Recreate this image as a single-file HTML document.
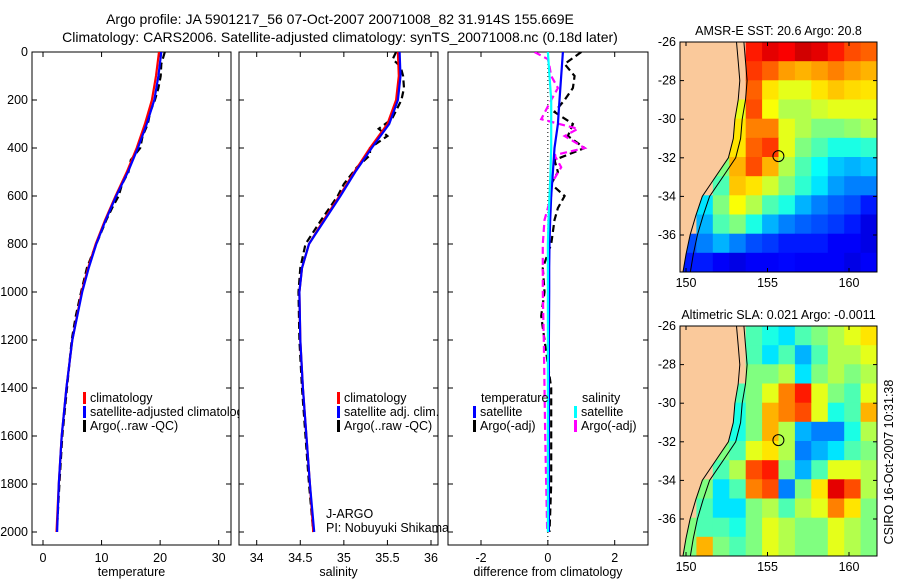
<!DOCTYPE html>
<html><head><meta charset="utf-8"><style>
html,body{margin:0;padding:0;background:#fff;}
svg{display:block;font-family:"Liberation Sans",sans-serif;}
</style></head><body>
<svg id="fig" width="900" height="580" viewBox="0 0 900 580">
<text x="340" y="24" font-size="14" text-anchor="middle">Argo profile: JA 5901217_56 07-Oct-2007 20071008_82 31.914S 155.669E</text>
<text x="340" y="42" font-size="14" text-anchor="middle">Climatology: CARS2006. Satellite-adjusted climatology: synTS_20071008.nc (0.18d later)</text>
</svg>
<script>
// ---------- profile data ----------
const depths = [0,100,200,300,400,500,600,700,800,900,1000,1200,1400,1600,1800,2000];
const tempClim = [19.8,19.3,18.6,17.4,16.0,14.3,12.4,10.6,9.0,7.7,6.6,5.0,4.0,3.2,2.7,2.3];
const tempSat = [20.2,19.7,19.0,17.7,16.2,14.5,12.5,10.7,9.1,7.8,6.7,5.0,4.0,3.2,2.7,2.4];
const tempArgoDepths = [0,50,100,150,200,250,300,350,400,450,500,550,600,650,700,800,900,1000,1100,1200,1400,1600,1800,2000];
const tempArgo = [20.8,20.2,20.1,19.7,19.1,18.3,17.9,17.0,16.6,15.0,14.6,13.5,12.9,11.8,10.8,9.1,7.5,6.5,5.6,4.9,4.1,3.3,2.8,2.35];
const salClim = [35.62,35.63,35.6,35.5,35.3,35.12,34.95,34.77,34.6,34.52,34.49,34.5,34.53,34.57,34.61,34.65];
const salSat = [35.64,35.65,35.62,35.52,35.32,35.13,34.96,34.78,34.6,34.52,34.49,34.5,34.53,34.57,34.61,34.66];
const salArgoDepths = [0,30,60,100,150,200,280,320,350,400,430,480,550,600,700,800,900,1000,1200,1400,1600,1800,2000];
const salArgo = [35.6,35.56,35.65,35.68,35.69,35.66,35.55,35.4,35.5,35.3,35.3,35.15,35.0,34.93,34.74,34.56,34.5,34.48,34.49,34.52,34.56,34.6,34.65];
const diffTempSat = [0.45,0.4,0.35,0.3,0.2,0.15,0.1,0.07,0.05,0.04,0.04,0.03,0.03,0.03,0.03,0.03];
const diffTempArgo = [1.0,0.5,0.8,0.75,0.5,0.2,0.75,0.6,1.1,0.2,0.3,0.1,0.5,0.3,0.2,0.1,-0.15,-0.1,-0.2,-0.1,0.1,0.1,0.1,0.05];
const diffSalSat = [0.0,0.05,0.1,0.1,0.1,0.08,0.05,0.02,0.0,0.0,0.0,0.0,0.0,0.0,0.0,0.0];
const diffSalArgo = [-0.4,0.0,0.05,0.1,0.3,0.1,-0.2,0.9,0.5,1.1,0.2,0.4,0.1,0.1,-0.1,-0.15,-0.15,-0.15,-0.12,-0.1,-0.08,-0.05,-0.02];
const depthTicks = [0,200,400,600,800,1000,1200,1400,1600,1800,2000];
const tempTicks = [0,10,20,30];
const salTicks = [34,34.5,35,35.5,36];
const diffTicks = [-2,0,2];
// ---------- map data (jet index 0..1, null = land) ----------
const L = null;
const sstGrid = [
[L,L,L,L,0.85,0.9,0.88,0.92,0.9,0.85,0.8,0.78],
[L,L,L,L,0.82,0.78,0.72,0.7,0.72,0.75,0.72,0.7],
[L,L,L,L,0.78,0.65,0.6,0.6,0.65,0.68,0.66,0.65],
[L,L,L,0.6,0.8,0.62,0.55,0.55,0.58,0.6,0.6,0.6],
[L,L,L,0.65,0.75,0.75,0.6,0.55,0.5,0.5,0.52,0.55],
[L,L,L,0.65,0.78,0.82,0.6,0.5,0.45,0.4,0.4,0.42],
[L,L,0.5,0.7,0.8,0.7,0.55,0.45,0.38,0.32,0.3,0.32],
[L,L,0.45,0.68,0.65,0.58,0.5,0.42,0.35,0.28,0.25,0.25],
[L,0.35,0.5,0.62,0.55,0.45,0.4,0.3,0.25,0.22,0.2,0.15],
[L,0.3,0.45,0.5,0.4,0.3,0.25,0.22,0.2,0.18,0.15,0.1],
[0.2,0.25,0.3,0.25,0.2,0.18,0.15,0.15,0.15,0.12,0.12,0.1],
[0.15,0.15,0.12,0.1,0.12,0.12,0.13,0.12,0.12,0.12,0.1,0.12]];
const slaGrid = [
[L,L,L,L,0.45,0.4,0.35,0.45,0.5,0.55,0.6,0.65],
[L,L,L,L,0.45,0.35,0.45,0.3,0.45,0.55,0.55,0.6],
[L,L,L,L,0.5,0.5,0.55,0.35,0.5,0.55,0.5,0.55],
[L,L,L,0.45,0.5,0.6,0.75,0.85,0.6,0.5,0.45,0.6],
[L,L,L,0.4,0.5,0.7,0.75,0.8,0.6,0.4,0.45,0.7],
[L,L,L,0.4,0.5,0.7,0.55,0.3,0.25,0.25,0.4,0.55],
[L,L,0.5,0.45,0.6,0.65,0.55,0.25,0.3,0.35,0.45,0.5],
[L,L,0.45,0.55,0.8,0.85,0.5,0.3,0.45,0.6,0.6,0.55],
[L,0.5,0.35,0.45,0.75,0.8,0.25,0.5,0.65,0.9,0.8,0.55],
[L,0.45,0.35,0.35,0.5,0.55,0.45,0.55,0.6,0.75,0.65,0.5],
[0.5,0.45,0.45,0.4,0.5,0.6,0.55,0.5,0.5,0.6,0.55,0.5],
[0.5,0.7,0.5,0.45,0.5,0.6,0.55,0.5,0.5,0.6,0.55,0.5]];
const coastLats = [-26,-27,-28,-29,-30,-31,-32,-33,-34,-35,-36,-37,-38];
const coastLons = [153.1,153.2,153.3,153.2,153.0,152.9,152.6,151.8,151.0,150.6,150.25,150.0,149.8];
const latTicks = [-26,-28,-30,-32,-34,-36];
const lonTicks = [150,155,160];
const argoLon = 155.669, argoLat = -31.914;

const NS = 'http://www.w3.org/2000/svg';
const svg = document.getElementById('fig');
function mk(tag, attrs, parent){const e=document.createElementNS(NS,tag);for(const k in attrs)e.setAttribute(k,attrs[k]);(parent||svg).appendChild(e);return e;}
function txt(x,y,s,anchor,size,parent){const t=mk('text',{x:x,y:y,'font-size':size||12.5,'text-anchor':anchor||'start'},parent);t.textContent=s;return t;}

const PT=52, PB=545;
const yDepth = d => PT + d*0.24;
function lin(v0,p0,v1,p1){return v=>p0+(v-v0)*(p1-p0)/(v1-v0);}

function panel(name,x0,x1,xs,ticks,label,showY){
  const g=mk('g',{});
  
  
  const clip=mk('clipPath',{id:'clip-'+name},svg);
  mk('rect',{x:x0,y:PT,width:x1-x0,height:PB-PT},clip);
  mk('rect',{x:x0,y:PT,width:x1-x0,height:PB-PT,fill:'#fff',stroke:'#000','stroke-width':1},g);
  depthTicks.forEach(d=>{const y=yDepth(d);
    mk('line',{x1:x0,y1:y,x2:x0+5,y2:y,stroke:'#000'},g);
    mk('line',{x1:x1-5,y1:y,x2:x1,y2:y,stroke:'#000'},g);
    if(showY){const t=txt(x0-4,y+4,String(d),'end',12.5,g);}
  });
  ticks.forEach(v=>{const x=xs(v);
    mk('line',{x1:x,y1:PT,x2:x,y2:PT+5,stroke:'#000'},g);
    mk('line',{x1:x,y1:PB-5,x2:x,y2:PB,stroke:'#000'},g);
    const t=txt(x,562,String(v),'middle',12.5,g);
    
    
  });
  const lt=txt((x0+x1)/2,576,label,'middle',12.5,g);
  
  
  const inner=mk('g',{'clip-path':'url(#clip-'+name+')'},g);
  return inner;
}
function series(parent,xs,ds,vs,color,dashed,nm){
  const pts=ds.map((d,i)=>xs(vs[i]).toFixed(1)+','+yDepth(d).toFixed(1)).join(' ');
  const p=mk('polyline',{points:pts,fill:'none',stroke:color,'stroke-width':2.2,'stroke-dasharray':dashed?'7,4':'none'},parent);
  
  
}
function legendEntry(parent,x,y,color,label,nm){
  mk('rect',{x:x,y:y-10,width:3,height:12,fill:color},parent);
  const t=txt(x+7,y,label,'start',12.5,parent);
  
  
}

// Panel 1 temperature
const xT=lin(0,43,30,218.7);
const g1=panel('temperature',32,231,xT,tempTicks,'temperature',true);
series(g1,xT,tempArgoDepths,tempArgo,'#000',true,'temp-argo-line');
series(g1,xT,depths,tempClim,'#f00',false,'temp-climatology-line');
series(g1,xT,depths,tempSat,'#00f',false,'temp-satellite-line');
const lg1=mk('g',{});


legendEntry(lg1,83,402,'#f00','climatology','legend-climatology');
legendEntry(lg1,83,416,'#00f','satellite-adjusted climatology','legend-satellite-adjusted');
legendEntry(lg1,83,430,'#000','Argo(..raw -QC)','legend-argo');

// Panel 2 salinity
const xS=lin(34,256.7,36,431);
const g2=panel('salinity',239,438,xS,salTicks,'salinity',false);
series(g2,xS,salArgoDepths,salArgo,'#000',true,'sal-argo-line');
series(g2,xS,depths,salClim,'#f00',false,'sal-climatology-line');
series(g2,xS,depths,salSat,'#00f',false,'sal-satellite-line');
const lg2=mk('g',{});


legendEntry(lg2,337,402,'#f00','climatology','legend-climatology');
legendEntry(lg2,337,416,'#00f','satellite adj. clim.','legend-satellite-adj');
legendEntry(lg2,337,430,'#000','Argo(..raw -QC)','legend-argo');
const pi1=txt(326,518,'J-ARGO','start',12.5);


const pi2=txt(326,532,'PI: Nobuyuki Shikama','start',12.5);



// Panel 3 difference
const xD=lin(-2,481,2,614.7);
const g3=panel('difference',448,648,xD,diffTicks,'difference from climatology',false);
mk('line',{x1:xD(0),y1:PT,x2:xD(0),y2:PB,stroke:'#000','stroke-dasharray':'1,3'},g3);
series(g3,xD,tempArgoDepths,diffTempArgo,'#000',true,'diff-temp-argo-line');
series(g3,xD,salArgoDepths,diffSalArgo,'#f0f',true,'diff-sal-argo-line');
series(g3,xD,depths,diffTempSat,'#00f',false,'diff-temp-satellite-line');
series(g3,xD,depths,diffSalSat,'#0ff',false,'diff-sal-satellite-line');
const lg3=mk('g',{});


const h1=txt(481,402,'temperature','start',12.5,lg3);


const h2=txt(582,402,'salinity','start',12.5,lg3);


legendEntry(lg3,473,416,'#00f','satellite','legend-temp-satellite');
legendEntry(lg3,473,430,'#000','Argo(-adj)','legend-temp-argo');
legendEntry(lg3,574,416,'#0ff','satellite','legend-sal-satellite');
legendEntry(lg3,574,430,'#f0f','Argo(-adj)','legend-sal-argo');

// ---------- maps ----------
function jet(v){
  const r=Math.max(0,Math.min(1,Math.min(4*v-1.5,-4*v+4.5)));
  const g=Math.max(0,Math.min(1,Math.min(4*v-0.5,-4*v+3.5)));
  const b=Math.max(0,Math.min(1,Math.min(4*v+0.5,-4*v+2.5)));
  return 'rgb('+Math.round(r*255)+','+Math.round(g*255)+','+Math.round(b*255)+')';
}
const MX0=680, MX1=877;
const xLon=lin(150,686,160,849);
function map(name,top,grid,title){
  const bottom=top+230;
  const yLat=lin(-26,top,-36,top+193);
  const g=mk('g',{});
  
  
  const clip=mk('clipPath',{id:'clip-'+name},svg);
  mk('rect',{x:MX0,y:top,width:MX1-MX0,height:bottom-top},clip);
  const inner=mk('g',{'clip-path':'url(#clip-'+name+')'},g);
  mk('rect',{x:MX0,y:top,width:MX1-MX0,height:bottom-top,fill:'#fac99b'},inner);
  const nr=grid.length, nc=grid[0].length;
  const cw=(MX1-MX0)/nc, ch=(bottom-top)/nr;
  grid.forEach((row,i)=>row.forEach((v,j)=>{
    if(v===null)return;
    const c=mk('rect',{x:(MX0+j*cw).toFixed(1),y:(top+i*ch).toFixed(1),width:(cw+0.6).toFixed(1),height:(ch+0.6).toFixed(1),fill:jet(v)},inner);
    
    
  }));
  let pts=coastLats.map((la,i)=>xLon(coastLons[i]).toFixed(1)+','+yLat(la).toFixed(1));
  const land=mk('polygon',{points:pts.join(' ')+' '+MX0+','+yLat(-38).toFixed(1)+' '+MX0+','+top,fill:'#fac99b',stroke:'#000','stroke-width':1},inner);
  
  
  const iso=coastLats.map((la,i)=>xLon(coastLons[i]+0.45).toFixed(1)+','+yLat(la).toFixed(1)).join(' ');
  mk('polyline',{points:iso,fill:'none',stroke:'#000','stroke-width':1},inner);
  const m=mk('circle',{cx:xLon(argoLon),cy:yLat(argoLat),r:5.5,fill:'none',stroke:'#000','stroke-width':1},inner);
  
  
  mk('rect',{x:MX0,y:top,width:MX1-MX0,height:bottom-top,fill:'none',stroke:'#000'},g);
  latTicks.forEach(la=>{const y=yLat(la);
    mk('line',{x1:MX0,y1:y,x2:MX0+4,y2:y,stroke:'#000'},g);
    mk('line',{x1:MX1-4,y1:y,x2:MX1,y2:y,stroke:'#000'},g);
    const t=txt(MX0-4,y+4,String(la),'end',12.5,g);
    
    
  });
  lonTicks.forEach(lo=>{const x=xLon(lo);
    mk('line',{x1:x,y1:top,x2:x,y2:top+4,stroke:'#000'},g);
    mk('line',{x1:x,y1:bottom-4,x2:x,y2:bottom,stroke:'#000'},g);
    const t=txt(x,bottom+15,String(lo),'middle',12.5,g);
    
    
  });
  const tt=txt((MX0+MX1)/2,top-7,title,'middle',12.5,g);
  
  
}
map('sst',42,sstGrid,'AMSR-E SST: 20.6 Argo: 20.8');
map('sla',326,slaGrid,'Altimetric SLA: 0.021 Argo: -0.0011');
const stamp=mk('text',{x:0,y:0,'font-size':12.5,'text-anchor':'middle',transform:'translate(893,462) rotate(-90)'});
stamp.textContent='CSIRO 16-Oct-2007 10:31:38';


</script>
</body></html>
